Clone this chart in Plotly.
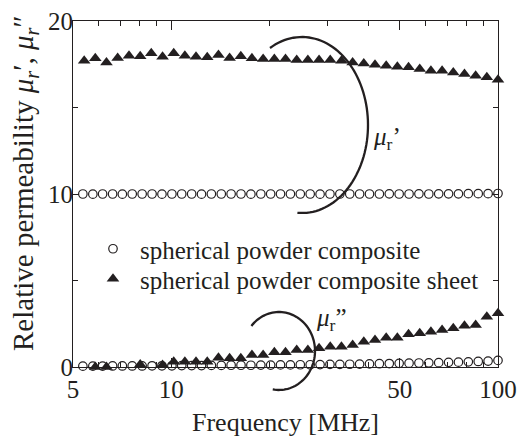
import numpy as np
import plotly.graph_objects as go

# ---- measured data -------------------------------------------------------
# Frequency sweep of the composite (44 points, MHz)
freq_composite = [5.00, 5.36, 5.75, 6.16, 6.61, 7.08, 7.59, 8.14, 8.73, 9.36,
                  10.04, 10.76, 11.54, 12.37, 13.26, 14.22, 15.24, 16.34, 17.52, 18.79,
                  20.14, 21.59, 23.15, 24.82, 26.61, 28.53, 30.59, 32.80, 35.17, 37.70,
                  40.42, 43.34, 46.47, 49.82, 53.42, 57.27, 61.40, 65.83, 70.58, 75.67,
                  81.13, 86.99, 93.26, 100.0]
mu1_composite = [10.00, 10.00, 9.99, 10.00, 10.00, 9.99, 10.00, 10.00, 10.00, 9.99,
                 10.00, 10.00, 10.00, 9.99, 10.00, 10.00, 10.00, 10.00, 9.99, 10.00,
                 10.00, 10.00, 10.00, 10.00, 10.00, 9.99, 10.00, 10.00, 10.00, 10.00,
                 10.00, 10.00, 10.01, 10.00, 10.00, 10.01, 10.00, 10.01, 10.01, 10.01,
                 10.02, 10.02, 10.02, 10.03]
mu2_composite = [0.05, 0.05, 0.05, 0.05, 0.06, 0.06, 0.06, 0.06, 0.07, 0.07,
                 0.07, 0.08, 0.08, 0.08, 0.09, 0.09, 0.10, 0.10, 0.10, 0.11,
                 0.11, 0.12, 0.12, 0.13, 0.13, 0.14, 0.15, 0.15, 0.16, 0.17,
                 0.18, 0.19, 0.20, 0.21, 0.22, 0.23, 0.24, 0.25, 0.27, 0.28,
                 0.30, 0.32, 0.34, 0.38]

# Frequency sweep of the composite sheet (39 points, MHz)
freq_sheet = [5.00, 5.41, 5.85, 6.33, 6.85, 7.42, 8.03, 8.68, 9.40, 10.17,
              11.00, 11.90, 12.88, 13.94, 15.08, 16.32, 17.65, 19.10, 20.67, 22.36,
              24.20, 26.18, 28.33, 30.65, 33.17, 35.89, 38.83, 42.02, 45.47, 49.19,
              53.23, 57.60, 62.32, 67.43, 72.96, 78.95, 85.42, 92.43, 100.0]
mu1_sheet = [17.65, 17.70, 17.84, 17.60, 17.86, 17.99, 17.96, 18.13, 17.94, 18.13,
             17.99, 17.94, 17.90, 18.03, 17.86, 17.96, 17.84, 17.80, 17.80, 17.80,
             17.75, 17.75, 17.75, 17.75, 17.70, 17.60, 17.55, 17.47, 17.42, 17.36,
             17.32, 17.22, 17.13, 17.13, 17.03, 16.94, 16.84, 16.75, 16.60]
# points below zero are not plotted
mu2_sheet = [0.02, None, 0.00, 0.00, None, None, 0.15, -0.10, 0.12, 0.31,
             0.31, 0.31, 0.31, 0.54, 0.50, 0.50, 0.69, 0.69, 0.85, 0.85,
             0.98, 0.98, 1.08, 1.17, 1.17, 1.27, 1.46, 1.56, 1.69, 1.69,
             1.89, 1.95, 2.04, 2.14, 2.24, 2.39, 2.43, 2.91, 3.10]

x_tickvals = [5, 10, 50, 100]
x_ticktext = ["5", "10", "50", "100"]
x_minor = [6, 7, 8, 9, 20, 30, 40, 60, 70, 80, 90]
y_tickvals = [0, 10, 20]
y_minor = [5, 15]

# ---- layout geometry -----------------------------------------------------
W, H = 526, 441
ML, MR, MT, MB = 73, 28, 21, 74
PW, PH = W - ML - MR, H - MT - MB

FONT = "Liberation Serif, Times New Roman, serif"
INK = "#231f20"


def to_paper(px, py):
    return (px - ML) / PW, (H - MB - py) / PH


def arc_path(cx, cy, rx, ry, t0, t1, n=80):
    t = np.radians(np.linspace(t0, t1, n))
    pts = [to_paper(cx + rx * np.cos(a), cy + ry * np.sin(a)) for a in t]
    return "M " + " L ".join(f"{x:.4f},{y:.4f}" for x, y in pts)


fig = go.Figure()

tri = dict(symbol="triangle-up", size=11, color=INK, line=dict(width=0))
circ = dict(symbol="circle", size=8.5, color="white", line=dict(color=INK, width=1.2))

# open circles first, filled triangles drawn over them
fig.add_trace(go.Scatter(x=freq_composite, y=mu1_composite, mode="markers", marker=circ,
                         name="spherical powder composite", legend="legend",
                         cliponaxis=False))
fig.add_trace(go.Scatter(x=freq_composite, y=mu2_composite, mode="markers", marker=circ,
                         showlegend=False, cliponaxis=False))
fig.add_trace(go.Scatter(x=freq_sheet, y=mu1_sheet, mode="markers", marker=tri,
                         name="spherical powder composite sheet", legend="legend2",
                         cliponaxis=False))
fig.add_trace(go.Scatter(x=freq_sheet, y=mu2_sheet, mode="markers", marker=tri,
                         showlegend=False, cliponaxis=False))

# transparent copies bound to the top / right axes so their tick marks render
fig.add_trace(go.Scatter(x=freq_composite, y=mu1_composite, xaxis="x2", yaxis="y",
                         mode="markers", marker=dict(opacity=0), hoverinfo="skip",
                         showlegend=False))
fig.add_trace(go.Scatter(x=freq_composite, y=mu1_composite, xaxis="x", yaxis="y2",
                         mode="markers", marker=dict(opacity=0), hoverinfo="skip",
                         showlegend=False))

# ellipses grouping the μr' and μr'' curves
fig.add_shape(type="path", xref="paper", yref="paper",
              path=arc_path(302, 125, 66, 88, -119, 94),
              line=dict(color=INK, width=2.3))
fig.add_shape(type="path", xref="paper", yref="paper",
              path=arc_path(279, 351, 36, 39, -140, 100),
              line=dict(color=INK, width=2.3))

lx, ly = to_paper(371, 138)
fig.add_annotation(x=lx, y=ly, xref="paper", yref="paper", showarrow=False,
                   xanchor="left", yanchor="middle",
                   text="<i>μ</i><sub>r</sub>’", font=dict(family=FONT, size=25, color=INK))
lx, ly = to_paper(314, 319)
fig.add_annotation(x=lx, y=ly, xref="paper", yref="paper", showarrow=False,
                   xanchor="left", yanchor="middle",
                   text="<i>μ</i><sub>r</sub>”", font=dict(family=FONT, size=25, color=INK))

# y-axis title
lx, ly = to_paper(25, 183)
fig.add_annotation(x=lx, y=ly, xref="paper", yref="paper", showarrow=False,
                   textangle=-90, xanchor="center", yanchor="middle",
                   text="Relative permeability <i>μ</i><sub><i>r</i></sub>′, "
                        "<i>μ</i><sub><i>r</i></sub>″",
                   font=dict(family=FONT, size=29, color=INK))

tickfont = dict(family=FONT, size=25, color=INK)
frame = dict(showline=True, linecolor=INK, linewidth=1.2, mirror=True,
             ticks="inside", tickcolor=INK, tickwidth=1.3, showgrid=False,
             zeroline=False, tickfont=tickfont)
x_minor_style = dict(tickvals=x_minor, ticks="inside", ticklen=5,
                     tickcolor=INK, tickwidth=1.3, showgrid=False)
y_minor_style = dict(tickvals=y_minor, ticks="inside", ticklen=5,
                     tickcolor=INK, tickwidth=1.3, showgrid=False)

fig.update_layout(
    xaxis=dict(type="log", range=[np.log10(5), 2], tickvals=x_tickvals,
               ticktext=x_ticktext, ticklen=9, minor=x_minor_style,
               title=dict(text="Frequency [MHz]", standoff=10,
                          font=dict(family=FONT, size=26, color=INK)),
               **frame),
    yaxis=dict(range=[0, 20], tickvals=y_tickvals, ticklen=6,
               ticklabelstandoff=-6, minor=y_minor_style, **frame),
    # tick marks along the top and right edges of the frame
    xaxis2=dict(type="log", range=[np.log10(5), 2], overlaying="x", side="top",
                anchor="y", tickvals=x_tickvals, ticklen=9, ticks="inside",
                tickcolor=INK, tickwidth=1.3, showticklabels=False,
                showgrid=False, zeroline=False, showline=False, minor=x_minor_style),
    yaxis2=dict(range=[0, 20], overlaying="y", side="right", anchor="x",
                tickvals=y_tickvals, ticklen=6, ticks="inside", tickcolor=INK,
                tickwidth=1.3, showticklabels=False, showgrid=False,
                zeroline=False, showline=False, minor=y_minor_style),
)

legend_common = dict(xanchor="left", yanchor="middle", bgcolor="rgba(0,0,0,0)",
                     itemwidth=44, font=dict(family=FONT, size=25, color=INK))
l1x, l1y = to_paper(86, 249)
l2x, l2y = to_paper(86, 279)
fig.update_layout(
    width=W, height=H,
    margin=dict(l=ML, r=MR, t=MT, b=MB, autoexpand=False),
    paper_bgcolor="white", plot_bgcolor="white",
    font=dict(family=FONT, color=INK),
    legend=dict(x=l1x, y=l1y, **legend_common),
    legend2=dict(x=l2x, y=l2y, **legend_common),
)

fig.write_html("out.html")
